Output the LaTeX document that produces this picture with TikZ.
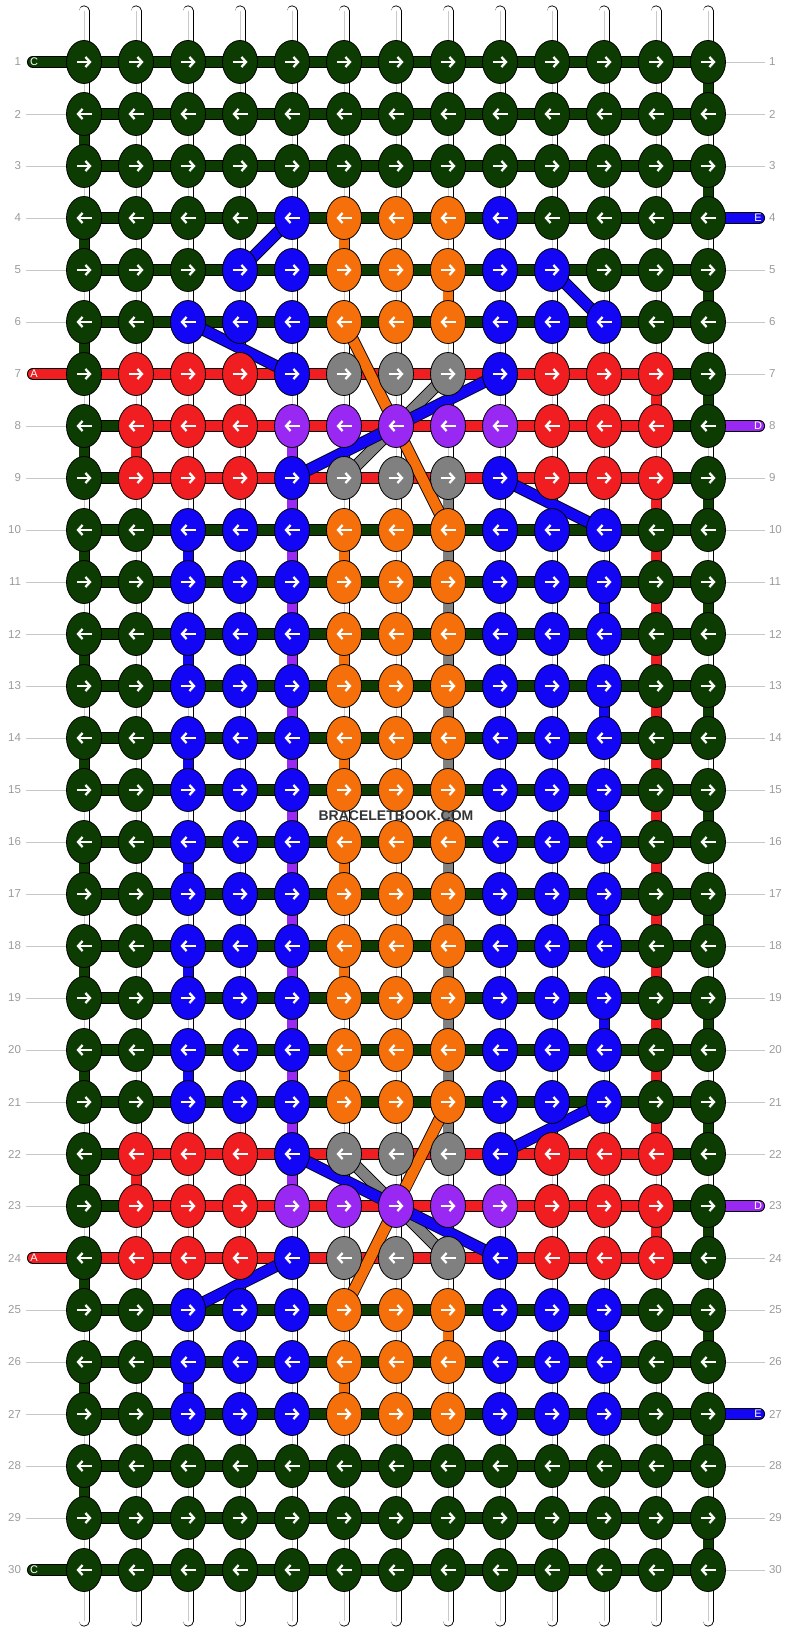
\documentclass[tikz,border=0pt]{standalone}
\usepackage{fontspec}
\setmainfont{Liberation Sans}
\usetikzlibrary{shapes.geometric,arrows.meta}

\definecolor{cg}{RGB}{13,60,3}
\definecolor{cb}{RGB}{18,6,245}
\definecolor{co}{RGB}{245,112,10}
\definecolor{cr}{RGB}{240,30,32}
\definecolor{cy}{RGB}{128,128,128}
\definecolor{cp}{RGB}{152,40,242}
\definecolor{numgray}{RGB}{155,155,155}
\definecolor{linegray}{RGB}{200,200,200}
\definecolor{wmgray}{RGB}{52,52,52}

% knot colours of each row type
\def\kG{g,g,g,g,g,g,g,g,g,g,g,g,g}
\def\kD{g,g,g,g,b,o,o,o,b,g,g,g,g}
\def\kE{g,g,g,b,b,o,o,o,b,b,g,g,g}
\def\kM{g,g,b,b,b,o,o,o,b,b,b,g,g}
\def\kR{g,r,r,r,b,y,y,y,b,r,r,r,g}
\def\kP{g,r,r,r,p,p,p,p,p,r,r,r,g}
% bar colours between the knots
\def\bG{g,g,g,g,g,g,g,g,g,g,g,g}
\def\bA{r,r,r,r,r,r,r,r,r,r,r,g}
\def\bR{g,r,r,r,r,r,r,r,r,r,r,g}

\def\rows{1/\kG/\bG,2/\kG/\bG,3/\kG/\bG,4/\kD/\bG,5/\kE/\bG,6/\kM/\bG,
  7/\kR/\bA,8/\kP/\bR,9/\kR/\bR,10/\kM/\bG,11/\kM/\bG,12/\kM/\bG,
  13/\kM/\bG,14/\kM/\bG,15/\kM/\bG,16/\kM/\bG,17/\kM/\bG,18/\kM/\bG,
  19/\kM/\bG,20/\kM/\bG,21/\kM/\bG,22/\kR/\bR,23/\kP/\bR,24/\kR/\bA,
  25/\kM/\bG,26/\kM/\bG,27/\kM/\bG,28/\kG/\bG,29/\kG/\bG,30/\kG/\bG}

\begin{document}
\begin{tikzpicture}[
  x=1pt, y=-1pt,
  warp/.style={draw=black, line width=0.8pt, double=white, double distance=9.4pt, line cap=round},
  warpmid/.style={draw=linegray, line width=1pt},
  bar/.style={draw=black, line width=0.8pt, double distance=10.5pt},
  vbar/.style={draw=black, line width=0.8pt, double distance=9.4pt},
  diag/.style={draw=black, line width=0.8pt, double distance=10.5pt},
  tail/.style={bar, line cap=round},
  knot/.style={ellipse, draw=black, line width=0.8pt, minimum width=35pt, minimum height=43pt, inner sep=0pt},
  arr/.style={white, line width=2.3pt, -{Straight Barb[length=4.5pt,width=10pt]}},
  num/.style={text=numgray, font=\fontsize{11.5}{12}\selectfont, inner sep=0pt},
  numline/.style={draw=linegray, line width=0.8pt},
  tailtxt/.style={text=white, font=\fontsize{11}{11}\selectfont, inner sep=0pt}
]
\useasboundingbox (0,0) rectangle (792,1632);

% warp strings
\foreach \c in {1,...,13} {
  \coordinate (top\c) at ({84+52*(\c-1)},11);
  \coordinate (bot\c) at ({84+52*(\c-1)},1621);
  \draw[warp] (top\c) -- (bot\c);
  \draw[warpmid] (top\c) -- (bot\c);
}

% knot places
\foreach \r in {1,...,30}
  \foreach \c in {1,...,13}
    \coordinate (p\r-\c) at ({84+52*(\c-1)},{62+52*(\r-1)});

% row numbers
\foreach \r in {1,...,30} {
  \node[num, anchor=east, outer xsep=5pt] (nl\r) at (26,{62+52*(\r-1)}) {\r};
  \node[num, anchor=west, outer xsep=4pt] (nr\r) at (765,{62+52*(\r-1)}) {\r};
}

% tails
\coordinate (tC1) at (33,62);
\coordinate (tA7) at (33,374);
\coordinate (tA24) at (33,1258);
\coordinate (tC30) at (33,1570);
\coordinate (tE4) at (759,218);
\coordinate (tD8) at (759,426);
\coordinate (tD23) at (759,1206);
\coordinate (tE27) at (759,1414);
\draw[tail, double=cg] (tC1) -- (p1-1);
\draw[tail, double=cr] (tA7) -- (p7-1);
\draw[tail, double=cr] (tA24) -- (p24-1);
\draw[tail, double=cg] (tC30) -- (p30-1);
\draw[tail, double=cb] (p4-13) -- (tE4);
\draw[tail, double=cp] (p8-13) -- (tD8);
\draw[tail, double=cp] (p23-13) -- (tD23);
\draw[tail, double=cb] (p27-13) -- (tE27);
\node[tailtxt] (lC1) at (34,62) {C};
\node[tailtxt] (lA7) at (34,374) {A};
\node[tailtxt] (lA24) at (34,1258) {A};
\node[tailtxt] (lC30) at (34,1570) {C};
\node[tailtxt] (lE4) at (758,218) {E};
\node[tailtxt] (lD8) at (758,426) {D};
\node[tailtxt] (lD23) at (758,1206) {D};
\node[tailtxt] (lE27) at (758,1414) {E};

% bars
\foreach \r/\kr/\br in \rows {
  \edef\lst{\br}
  \foreach \k [count=\c] in \lst {
    \pgfmathtruncatemacro\d{\c+1}
    \draw[bar, double=c\k] (p\r-\c) -- (p\r-\d);
  }
}

% turns down to the next row
\foreach \j [evaluate=\j as \n using int(\j+1)] in {1,3,...,29}
  \draw[vbar, double=cg] (p\j-13) -- (p\n-13);
\foreach \j [evaluate=\j as \n using int(\j+1)] in {2,4,...,28}
  \draw[vbar, double=cg] (p\j-1) -- (p\n-1);
\foreach \j/\c [evaluate=\j as \n using int(\j+1)] in {4/6,5/8,10/6,12/6,14/6,16/6,18/6,20/6,25/8,26/6}
  \draw[vbar, double=co] (p\j-\c) -- (p\n-\c);
\foreach \j/\c [evaluate=\j as \n using int(\j+1)] in {10/3,11/11,12/3,13/11,14/3,15/11,16/3,17/11,18/3,19/11,20/3,25/11,26/3}
  \draw[vbar, double=cb] (p\j-\c) -- (p\n-\c);
\foreach \j [evaluate=\j as \n using int(\j+1)] in {9,...,21}
  \draw[vbar, double=cy] (p\j-8) -- (p\n-8);
\foreach \j [evaluate=\j as \n using int(\j+1)] in {8,...,22}
  \draw[vbar, double=cp] (p\j-5) -- (p\n-5);
\foreach \j/\c [evaluate=\j as \n using int(\j+1)] in {7/12,8/2,9/12,10/12,11/12,12/12,13/12,14/12,15/12,16/12,17/12,18/12,19/12,20/12,21/12,22/2,23/12}
  \draw[vbar, double=cr] (p\j-\c) -- (p\n-\c);

% crossing strands
\draw[diag, double=cy] (p7-8) -- (p9-6);
\draw[diag, double=cy] (p22-6) -- (p24-8);
\draw[diag, double=co] (p6-6) -- (p10-8);
\draw[diag, double=co] (p21-8) -- (p25-6);
\draw[diag, double=cb] (p4-5) -- (p5-4);
\draw[diag, double=cb] (p5-10) -- (p6-11);
\draw[diag, double=cb] (p6-3) -- (p7-5);
\draw[diag, double=cb] (p7-9) -- (p9-5);
\draw[diag, double=cb] (p9-9) -- (p10-11);
\draw[diag, double=cb] (p21-11) -- (p22-9);
\draw[diag, double=cb] (p22-5) -- (p24-9);
\draw[diag, double=cb] (p24-5) -- (p25-3);

% knots
\foreach \r/\kr/\br in \rows {
  \edef\lst{\kr}
  \foreach \k [count=\c] in \lst {
    \node[knot, fill=c\k] (k\r-\c) at (p\r-\c) {};
    \ifodd\r\relax
      \draw[arr] ([xshift=-7.5pt]k\r-\c.center) -- ([xshift=7.5pt]k\r-\c.center);
    \else
      \draw[arr] ([xshift=7.5pt]k\r-\c.center) -- ([xshift=-7.5pt]k\r-\c.center);
    \fi
  }
}

% number lines
\foreach \r in {2,...,6,8,9,...,23,25,26,...,29}
  \draw[numline] (nl\r) -- (k\r-1);
\foreach \r in {1,2,3,5,6,7,9,10,...,22,24,25,26,28,29,30}
  \draw[numline] (k\r-13) -- (nr\r);

\node[text=wmgray, font=\fontsize{14}{15}\selectfont\bfseries] (wm) at (396,816) {BRACELETBOOK.COM};

\end{tikzpicture}
\end{document}
